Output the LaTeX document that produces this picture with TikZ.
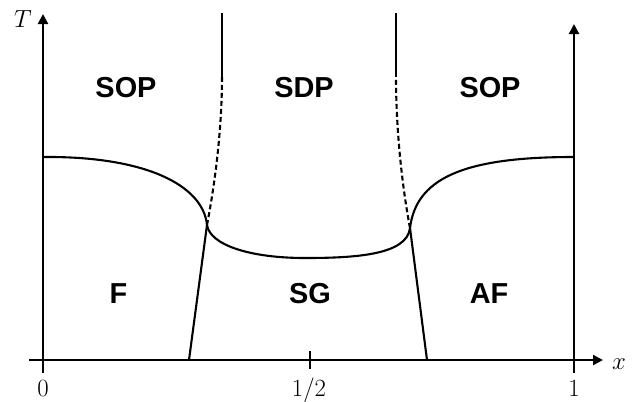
\documentclass[tikz,border=0pt]{standalone}
\usepackage{fontspec}
\newfontfamily\labfont{Liberation Sans}
\usetikzlibrary{arrows.meta}
\begin{document}
\begin{tikzpicture}[x=1bp,y=-1bp,
  ln/.style={line width=2.1bp},
  axis/.style={line width=2.1bp,-{Triangle[length=10bp,width=10bp]}},
  dsh/.style={line width=2.1bp,dash pattern=on 5bp off 3bp},
  phase/.style={font=\labfont\bfseries\fontsize{29}{29}\selectfont,anchor=base},
  num/.style={font=\fontsize{25.5}{25.5}\selectfont,anchor=base}]
\useasboundingbox (0,0) rectangle (642,401);
% key points
\coordinate (O0) at (43,373);
\coordinate (Ttop) at (43,14);
\coordinate (O1) at (574,373);
\coordinate (Rtop) at (574,24);
\coordinate (Xs) at (29,360);
\coordinate (Xe) at (603,360);
\coordinate (A) at (43,157);
\coordinate (L) at (207,225);
\coordinate (M) at (305,258);
\coordinate (R) at (410,228);
\coordinate (B) at (573,157);
\coordinate (LD) at (222,77);
\coordinate (RD) at (396,77);
\coordinate (LT) at (222,13);
\coordinate (RT) at (396,13);
\coordinate (LB) at (189,360);
\coordinate (RB) at (427,360);
\coordinate (H1) at (310,351);
\coordinate (H2) at (310,369);
% axes
\draw[axis] (O0) -- (Ttop);
\draw[axis] (O1) -- (Rtop);
\draw[axis] (Xs) -- (Xe);
\draw[ln] (H1) -- (H2);
% phase boundary
\draw[ln] (A) .. controls (145,156) and (203,185) .. (L)
  .. controls (210,245) and (250,258) .. (M)
  .. controls (355,258) and (407,255) .. (R)
  .. controls (416,180) and (460,157) .. (B);
\draw[dsh] (L) .. controls (216,178) and (222,125) .. (LD);
\draw[dsh] (R) .. controls (401,180) and (396,125) .. (RD);
\draw[ln] (LD) -- (LT);
\draw[ln] (RD) -- (RT);
\draw[ln] (L) -- (LB);
\draw[ln] (R) -- (RB);
% labels
\node[num] (t) at (23,27) {$T$};
\node[num] (xl) at (619,369) {$x$};
\node[num] (n0) at (43,396) {$0$};
\node[num] (nh) at (309,396) {$1/2$};
\node[num] (n1) at (574,396) {$1$};
\node[phase] (sop1) at (126,97.5) {SOP};
\node[phase] (sdp) at (304,97.5) {SDP};
\node[phase] (sop2) at (490,97.5) {SOP};
\node[phase] (f) at (118.5,303) {F};
\node[phase] (sg) at (310,303) {SG};
\node[phase] (af) at (489,303) {AF};
\end{tikzpicture}
\end{document}
